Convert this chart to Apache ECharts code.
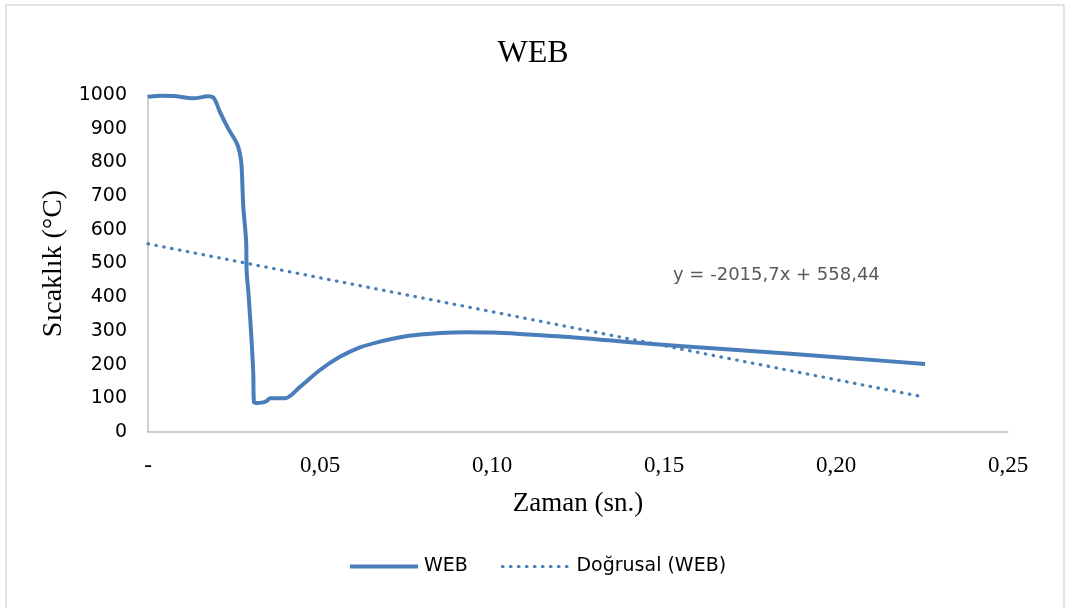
<!DOCTYPE html>
<html>
<head>
<meta charset="utf-8">
<script src="https://cdn.jsdelivr.net/npm/echarts@6/dist/echarts.min.js"></script>
<style>
  html, body { margin: 0; padding: 0; background: #fff; }
  #chart { width: 1066px; height: 608px; }
</style>
</head>
<body>
<div id="chart"></div>
<script>
// zaman (sn.) ve sıcaklık (°C) okumaları
const timeValues = [0, 0.0004, 0.004, 0.0074, 0.0132, 0.0175, 0.0192, 0.0209, 0.0233, 0.0258, 0.0267, 0.0272, 0.0277, 0.0285, 0.0287, 0.0292, 0.0301, 0.0306, 0.0308, 0.0316, 0.0335, 0.0345, 0.0355, 0.0398, 0.0442, 0.05, 0.0558, 0.0616, 0.0674, 0.0733, 0.0791, 0.0849, 0.0926, 0.1003, 0.108, 0.125, 0.1439, 0.165, 0.1857, 0.205, 0.2259];
const webValues  = [993, 995, 998, 997, 990, 996, 990, 950, 901, 857, 827, 790, 669, 570, 472, 412, 273, 175, 88, 86, 88, 92, 100, 100, 134, 184, 223, 251, 268, 281, 289, 294, 296, 295, 291, 280, 263, 248, 233, 218, 202];
// Doğrusal eğilim çizgisi uçları
const trendX = [0, 0.225];
const trendY = [558.44, 104.9];
const yTicks = [0, 100, 200, 300, 400, 500, 600, 700, 800, 900, 1000];
const equationText = 'y = -2015,7x + 558,44';

const chart = echarts.init(document.getElementById('chart'));
const blue = '#4a7ebb';

chart.setOption({
  animation: false,
  backgroundColor: '#fff',
  title: {
    text: 'WEB',
    left: 'center', top: 33,
    textStyle: { fontFamily: 'Liberation Serif', fontSize: 32, fontWeight: 'normal', color: '#000' }
  },
  legend: {
    bottom: 27, left: 343,
    itemWidth: 68, itemHeight: 4, itemGap: 33,
    textStyle: { fontFamily: 'DejaVu Sans', fontSize: 19, color: '#000', padding: [0, 0, 0, 1] },
    data: [
      { name: 'WEB', lineStyle: { width: 4 }, itemStyle: { opacity: 0 } },
      { name: 'Doğrusal (WEB)', lineStyle: { width: 3.2 }, itemStyle: { opacity: 0 } }
    ]
  },
  grid: { left: 148, right: 58, top: 95, bottom: 176 },
  xAxis: {
    type: 'value', min: 0, max: 0.25, interval: 0.05,
    name: 'Zaman (sn.)', nameLocation: 'middle', nameGap: 58,
    nameTextStyle: { fontFamily: 'Liberation Serif', fontSize: 27, color: '#000' },
    axisLine: { show: true, lineStyle: { color: '#bfbfbf', width: 1.5 } },
    axisTick: { show: false },
    splitLine: { show: false },
    axisLabel: {
      margin: 22, fontFamily: 'Liberation Sans Narrow', fontSize: 23, color: '#000',
      formatter: v => v === 0 ? '-' : v.toFixed(2).replace('.', ',')
    }
  },
  yAxis: {
    type: 'value', min: yTicks[0], max: yTicks[yTicks.length - 1], interval: 100,
    name: 'Sıcaklık (°C)', nameLocation: 'middle', nameGap: 73,
    nameTextStyle: { fontFamily: 'Liberation Serif', fontSize: 28, color: '#000' },
    axisLine: { show: true, lineStyle: { color: '#bfbfbf', width: 1.5 } },
    axisTick: { show: false },
    splitLine: { show: false },
    axisLabel: { margin: 21, fontFamily: 'DejaVu Sans', fontSize: 19, color: '#000', formatter: v => String(v) }
  },
  graphic: [
    {
      type: 'rect', silent: true, z: -1,
      shape: { x: 6, y: 5, width: 1058, height: 610 },
      style: { fill: 'none', stroke: '#d9d9d9', lineWidth: 1.5 }
    },
    {
      type: 'text', left: 673, top: 266,
      style: { text: equationText, fontFamily: 'DejaVu Sans', fontSize: 18, fill: '#595959' }
    }
  ],
  series: [
    {
      name: 'WEB', type: 'line', showSymbol: false, symbol: 'none', smooth: 0.3,
      data: timeValues.map((t, i) => [t, webValues[i]]),
      lineStyle: { color: blue, width: 4 },
      itemStyle: { color: blue }
    },
    {
      name: 'Doğrusal (WEB)', type: 'line', showSymbol: false, symbol: 'none',
      data: trendX.map((t, i) => [t, trendY[i]]),
      lineStyle: { color: blue, width: 3.2, type: [0.6, 7.4], cap: 'round' },
      itemStyle: { color: blue }
    }
  ]
});
</script>
</body>
</html>
